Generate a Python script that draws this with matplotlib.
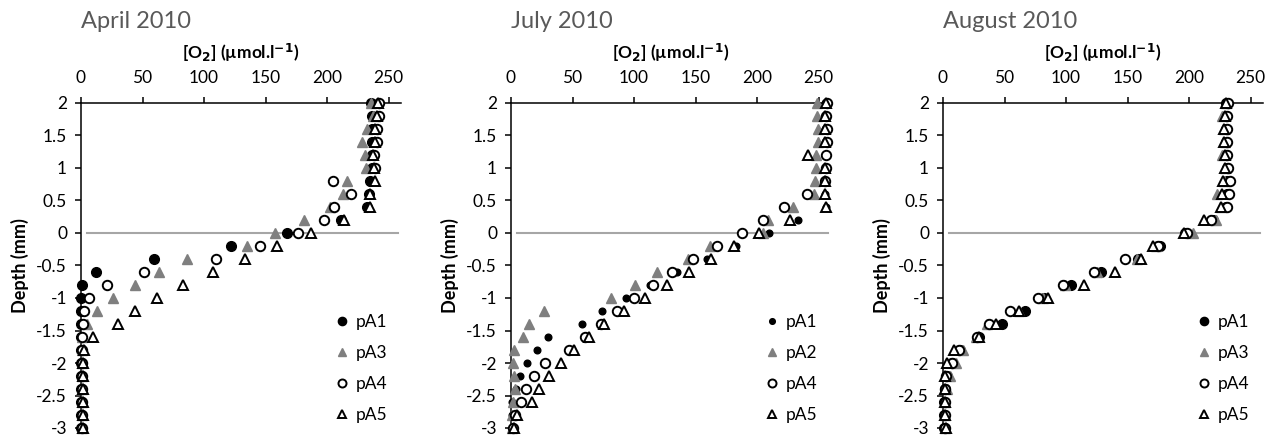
import matplotlib
matplotlib.use("Agg")
import matplotlib.pyplot as plt
from matplotlib.lines import Line2D

plt.rcParams['font.family'] = ['Lato', 'DejaVu Sans']
plt.rcParams['mathtext.default'] = 'regular'
plt.rcParams['axes.unicode_minus'] = False

# profondeurs (mm)
depth = [2.0, 1.8, 1.6, 1.4, 1.2, 1.0, 0.8, 0.6, 0.4, 0.2, 0.0, -0.2, -0.4,
         -0.6, -0.8, -1.0, -1.2, -1.4, -1.6, -1.8, -2.0, -2.2, -2.4, -2.6, -2.8, -3.0]

# avril 2010
apr_pA1 = [236, 236.5, 236.5, 236.5, 236.5, 236.5, 235, 234, 232, 211, 167.5, 121.5, 59,
           12, 1, 0, 0, 0, 0, 0, 0, 0, 0, 0, 0, 0]
apr_pA3 = [236, 237, 232.5, 228.5, 231, 231.5, 216, 213, 202, 181, 158, 135, 86,
           63, 44, 26, 13, 4.5, 1, 0.5, 0.5, 0.5, 0.5, 0.5, 0.5, 0.5]
apr_pA4 = [242, 242.5, 240.5, 240.5, 238, 238.5, 205, 219, 205.5, 197.5, 176.5, 145.5, 110,
           51, 21, 6.5, 2.5, 1.5, 1, 1, 1, 1, 1, 1, 1, 1]
apr_pA5 = [241, 240.5, 239, 239, 237.5, 238, 239, 235, 235, 214, 186.5, 159, 133,
           107, 83, 62, 44, 30, 10, 2.5, 1.5, 1.5, 1.5, 1.5, 1.5, 1.5]

# juillet 2010
jul_pA1 = [255, 255, 255.5, 255.5, 255, 255, 255.5, 255, 256, 233.5, 209.5, 183, 159,
           135, 113, 93.5, 74, 57.5, 30, 21, 13, 7.5, 4, 1, 0.5, 0.5]
jul_pA2 = [248.5, 248.5, 249.5, 249.5, 248, 247.5, 247, 246, 229.5, 209, 205, 162, 144,
           119, 100.5, 81.5, 26.5, 14.5, 10, 2.5, 2, 2.5, 3, 2, 1, 1]
jul_pA4 = [256.5, 256, 256.5, 256.5, 256, 256, 255.5, 240.5, 221.5, 205, 187.5, 167.5, 147.5,
           131, 115, 100, 86, 73, 60, 47, 27.5, 18.5, 12.5, 8, 3.5, 2]
jul_pA5 = [256, 255, 255.5, 255.5, 241.5, 255, 255.5, 255, 256, 227, 201.5, 181.5, 162.5,
           145, 126.5, 109, 92, 75.5, 63, 51, 40.5, 31, 22.5, 17, 5, 2.5]

# aout 2010
aug_pA1 = [230, 230, 230, 230, 230, 230.5, 231, 230.5, 230, 219, 197, 176.5, 158.5,
           128.5, 104, 82, 67, 48, 29.5, 14, 7, 3, 1.5, 1, 1, 1]
aug_pA3 = [230, 226.5, 228.5, 229, 227, 229, 228, 223, 226, 221.5, 203, 173, 158,
           125, 99, 81.5, 62, 36, 27, 16, 10.5, 5.5, 3, 1.5, 1.5, 2]
aug_pA4 = [231.5, 231, 231, 231, 231, 231.5, 233, 232.5, 231, 218, 198, 174.5, 147.5,
           122.5, 97.5, 77, 54.5, 37.5, 28, 13, 7, 2.5, 1.5, 1.5, 1.5, 1.5]
aug_pA5 = [230, 229.5, 228, 228.5, 229, 229.5, 227.5, 227, 225.5, 212, 196, 171, 160.5,
           139.5, 114.5, 85, 61.5, 43, 29.5, 9, 3, 2, 1.5, 1.5, 1.5, 2.5]

titles = ['April 2010', 'July 2010', 'August 2010']
labels_apr = ['pA1', 'pA3', 'pA4', 'pA5']
labels_jul = ['pA1', 'pA2', 'pA4', 'pA5']
labels_aug = ['pA1', 'pA3', 'pA4', 'pA5']

xticks = [0, 50, 100, 150, 200, 250]
yticks = [2, 1.5, 1, 0.5, 0, -0.5, -1, -1.5, -2, -2.5, -3]
ytick_labels = ['2', '1.5', '1', '0.5', '0', '-0.5', '-1', '-1.5', '-2', '-2.5', '-3']

# styles des marqueurs : rond plein, triangle gris, rond vide, triangle vide
styles = [dict(marker='o', color='black', mfc='black', mec='black', ms=7),
          dict(marker='^', color='#7f7f7f', mfc='#7f7f7f', mec='#7f7f7f', ms=7.5),
          dict(marker='o', color='black', mfc='white', mec='black', ms=6.8, mew=1.4),
          dict(marker='^', color='black', mfc='white', mec='black', ms=7, mew=1.4)]

panels = [(titles[0], [apr_pA1, apr_pA3, apr_pA4, apr_pA5], labels_apr, 7),
          (titles[1], [jul_pA1, jul_pA2, jul_pA4, jul_pA5], labels_jul, 4.8),
          (titles[2], [aug_pA1, aug_pA3, aug_pA4, aug_pA5], labels_aug, 7)]

W, H = 1274, 437
fig = plt.figure(figsize=(W / 100, H / 100), dpi=100)
lefts = [81, 511, 943]

for i, (title, series, labels, ms1) in enumerate(panels):
    ax = fig.add_axes([lefts[i] / W, 9 / H, 320 / W, 325 / H])
    ax.set_xlim(0, 260)
    ax.set_ylim(-3, 2)
    ax.axhline(0, xmin=0.02, xmax=0.99, color='#a6a6a6', lw=1.5, zorder=1)
    handles = []
    for j, (vals, lab) in enumerate(zip(series, labels)):
        st = dict(styles[j])
        if j == 0:
            st['ms'] = ms1
        ax.plot(vals, depth, ls='none', zorder=3 + j, clip_on=False, **st)
        hst = dict(st)
        hst['ms'] = st['ms'] * 0.85
        handles.append(Line2D([], [], ls='none', label=lab, **hst))
    ax.spines['right'].set_visible(False)
    ax.spines['bottom'].set_visible(False)
    ax.spines['top'].set_linewidth(1.1)
    ax.spines['left'].set_linewidth(1.1)
    ax.xaxis.tick_top()
    ax.xaxis.set_label_position('top')
    ax.set_xticks(xticks)
    ax.set_yticks(yticks)
    ax.set_yticklabels(ytick_labels)
    ax.tick_params(axis='both', labelsize=12.5, width=1.1, length=4)
    ax.tick_params(axis='y', pad=6)
    ax.tick_params(axis='x', pad=8)
    ax.set_xlabel(r'[O$_\mathbf{2}$] (µmol.l$^\mathbf{-1}$)', fontsize=12.5,
                  fontweight='bold', labelpad=8)
    ax.set_ylabel('Depth (mm)', fontsize=13, fontweight='bold', labelpad=5)
    ax.legend(handles=handles, loc='upper left', bbox_to_anchor=(0.795, 0.352),
              frameon=False, fontsize=12.5, borderpad=0, borderaxespad=0,
              handlelength=0.8, handletextpad=0.35, labelspacing=0.87)
    fig.text(lefts[i] / W, 1 - 22 / H, title, fontsize=17, color='#595959',
             ha='left', va='center')

fig.savefig('out.png', dpi=100)
